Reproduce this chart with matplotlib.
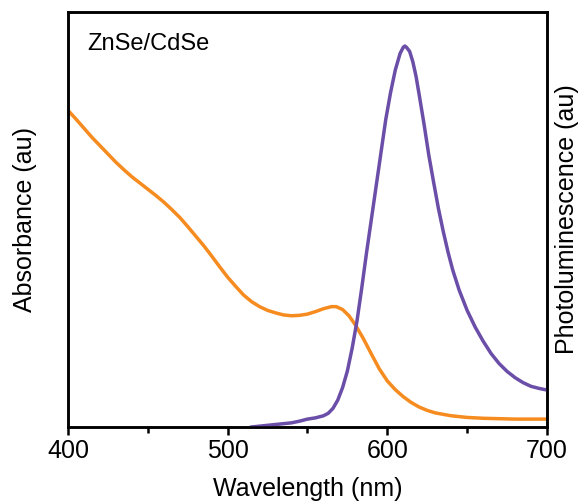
import matplotlib.pyplot as plt
from matplotlib.ticker import MultipleLocator

plt.rcParams['font.family'] = ['Liberation Sans', 'DejaVu Sans']

# absorbance spectrum (orange)
abs_nm = [400, 405, 410, 415, 420, 425, 430, 435, 440, 445, 450, 455, 460,
          465, 470, 475, 480, 485, 490, 495, 500, 505, 510, 515, 520, 525,
          530, 535, 540, 545, 550, 555, 560, 565, 568, 572, 576, 580, 585,
          590, 595, 600, 605, 610, 615, 620, 625, 630, 640, 650, 660, 680, 700]
abs_val = [0.763, 0.742, 0.720, 0.698, 0.678, 0.658, 0.638, 0.620, 0.603,
           0.588, 0.573, 0.558, 0.542, 0.524, 0.505, 0.483, 0.460, 0.437,
           0.412, 0.386, 0.361, 0.339, 0.318, 0.302, 0.290, 0.281, 0.275,
           0.270, 0.268, 0.269, 0.272, 0.278, 0.285, 0.290, 0.290, 0.283,
           0.268, 0.246, 0.213, 0.176, 0.140, 0.111, 0.090, 0.073, 0.059,
           0.048, 0.040, 0.034, 0.027, 0.023, 0.021, 0.019, 0.019]

# photoluminescence spectrum (purple)
pl_nm = [515, 520, 525, 530, 535, 540, 545, 550, 555, 560, 563, 566, 569,
         572, 575, 578, 581, 584, 587, 590, 593, 596, 599, 602, 605, 608,
         610, 611, 612, 614, 616, 618, 620, 623, 626, 629, 632, 635, 638,
         641, 645, 650, 655, 660, 665, 670, 675, 680, 685, 690, 695, 700]
pl_val = [0.0, 0.002, 0.004, 0.006, 0.008, 0.010, 0.014, 0.019, 0.022,
          0.027, 0.033, 0.045, 0.065, 0.095, 0.135, 0.190, 0.255, 0.335,
          0.420, 0.500, 0.580, 0.660, 0.740, 0.805, 0.860, 0.900, 0.915,
          0.918, 0.915, 0.905, 0.880, 0.845, 0.800, 0.730, 0.655, 0.590,
          0.527, 0.472, 0.422, 0.378, 0.330, 0.281, 0.241, 0.207, 0.177,
          0.153, 0.134, 0.119, 0.107, 0.098, 0.093, 0.089]

fig = plt.figure(figsize=(5.88, 5.04), dpi=100)
ax = fig.add_axes([0.1156, 0.1528, 0.8146, 0.8234])
ax2 = ax.twinx()

ax.plot(abs_nm, abs_val, color='#F68B1F', lw=2.5, solid_joinstyle='round')
ax2.plot(pl_nm, pl_val, color='#6A4EA8', lw=2.5, solid_joinstyle='round')

for a in (ax, ax2):
    a.set_xlim(400, 700)
    a.set_ylim(0, 1.0)
    a.set_yticks([])
    for s in a.spines.values():
        s.set_linewidth(1.8)

ax.xaxis.set_major_locator(MultipleLocator(100))
ax.xaxis.set_minor_locator(MultipleLocator(50))
ax.tick_params(axis='x', which='major', direction='out', length=5.5,
               width=1.8, labelsize=18, pad=3)
ax.tick_params(axis='x', which='minor', direction='out', length=4, width=1.8)

ax.set_xlabel('Wavelength (nm)', fontsize=18, labelpad=10)
ax.set_ylabel('Absorbance (au)', fontsize=18, labelpad=22)
ax2.set_ylabel('Photoluminescence (au)', fontsize=18, labelpad=6)

ax.text(0.04, 0.95, 'ZnSe/CdSe', transform=ax.transAxes, fontsize=17,
        ha='left', va='top')

fig.savefig('out.png', dpi=100)
